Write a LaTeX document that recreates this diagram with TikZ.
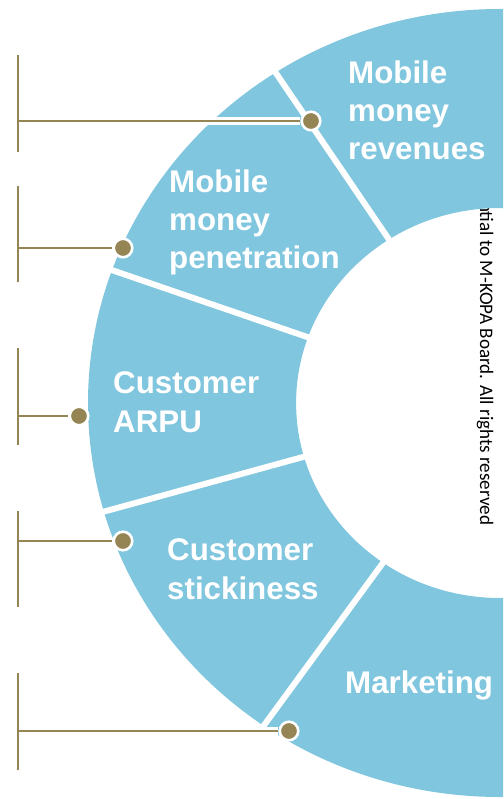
\documentclass[tikz,border=0pt]{standalone}
\usepackage{fontspec}
\setmainfont{Liberation Sans}
\newfontfamily\notefont{Carlito}
\usepackage{xcolor}
\definecolor{RingBlue}{RGB}{128,198,222}
\definecolor{LeadOlive}{RGB}{149,133,84}
\usetikzlibrary{positioning}

\begin{document}
\begin{tikzpicture}[
      x=1pt, y=1pt
      , seg-label/.style={text=white, font=\fontsize{31.3}{38}\selectfont\bfseries, align=left, inner sep=0pt, anchor=base west}
      , lead/.style={color=LeadOlive, line width=2.6pt}
      , lead-halo/.style={color=white, line width=8pt}
      , bar/.style={color=LeadOlive, line width=2.2pt}
      , knob/.style={circle, fill=LeadOlive, draw=white, line width=2.6pt, inner sep=0pt, minimum size=18.5pt}
      , divider/.style={color=white, line width=6pt}
      ]

      \useasboundingbox (0,0) rectangle (503,-799);
      \clip (0,0) rectangle (503,-799);

      \coordinate (hub) at (500,-403);

      % note sits behind the ring
      \node[rotate=-90, anchor=base west, inner sep=0pt, font=\notefont\fontsize{19.1}{22}\selectfont] (note) at (480,-142) {Confidential to M-KOPA Board. All rights reserved};

      \begin{scope}[shift={(hub)}, xscale=1.0457]
        \fill[RingBlue, even odd rule] (0,0) circle (394) (0,0) circle (195);
        \draw[divider] (123:185) -- (123:405);
        \draw[divider] (160.3:185) -- (160.3:405);
        \draw[divider] (196:185) -- (196:405);
        \draw[divider] (235:185) -- (235:405);
      \end{scope}

      % base anchor = baseline of the last line
      \node[seg-label] (revenues) at (348,-160) {Mobile\\money\\revenues};
      \node[seg-label] (penetration) at (169,-269) {Mobile\\money\\penetration};
      \node[seg-label, font=\fontsize{31.3}{39}\selectfont\bfseries] (arpu) at (113,-432) {Customer\\ARPU};
      \node[seg-label, font=\fontsize{31.3}{39}\selectfont\bfseries] (stickiness) at (167,-599) {Customer\\stickiness};
      \node[seg-label] (marketing) at (345,-693) {Marketing};

      \node[knob] (knob1) at (311,-121) {};
      \node[knob] (knob2) at (123,-248) {};
      \node[knob] (knob3) at (79,-416) {};
      \node[knob] (knob4) at (123,-541) {};
      \node[knob] (knob5) at (289,-731) {};

      \coordinate (bar1) at (18,-121);
      \coordinate (bar2) at (18,-248);
      \coordinate (bar3) at (18,-416);
      \coordinate (bar4) at (18,-541);
      \coordinate (bar5) at (18,-731);

      \draw[lead-halo] (bar1) -- (knob1);
      \draw[lead-halo] (bar5) -- (knob5);

      \draw[lead] (bar1) -- (knob1);
      \draw[lead] (bar2) -- (knob2);
      \draw[lead] (bar3) -- (knob3);
      \draw[lead] (bar4) -- (knob4);
      \draw[lead] (bar5) -- (knob5);

      \draw[bar] (18,-55) -- (18,-152);
      \draw[bar] (18,-186) -- (18,-282);
      \draw[bar] (18,-348) -- (18,-445);
      \draw[bar] (18,-511) -- (18,-607);
      \draw[bar] (18,-673) -- (18,-770);
    \end{tikzpicture}
\end{document}
